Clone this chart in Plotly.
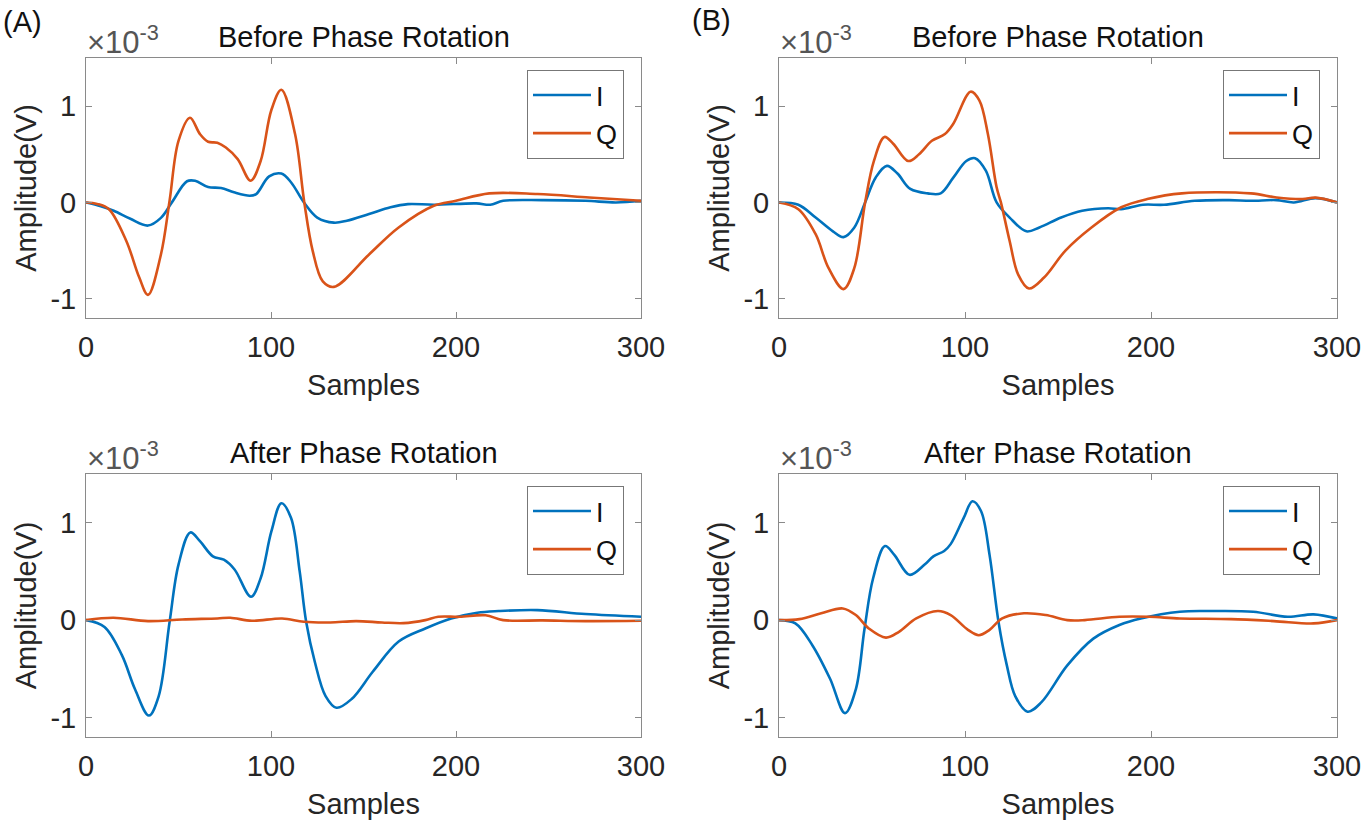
import plotly.graph_objects as go

# values are in units of 1e-3 V (axes carry the x10^-3 multiplier)

# (A) before phase rotation
a_before_i_x = [0, 8, 15, 24, 33.5, 40.5, 46.4, 54.6, 59, 66, 73, 80, 88.5, 92, 99, 105.6, 110.8, 117.8,
                125, 134, 141, 153, 164.6, 174, 188, 211, 218.5, 225.5, 246.6, 270, 286.4, 300]
a_before_i_y = [0, -0.04, -0.087, -0.17, -0.24, -0.16, 0, 0.22, 0.225, 0.16, 0.15, 0.105, 0.07, 0.087, 0.27,
                0.30, 0.21, 0, -0.157, -0.21, -0.19, -0.12, -0.05, -0.017, -0.024, -0.01, -0.024, 0.017,
                0.024, 0.017, 0.0, 0.017]
a_before_q_x = [0, 6, 12.4, 21.8, 28.8, 33.5, 40.5, 45.2, 50, 56.2, 61.6, 66, 71, 75.6, 82, 89, 94.4, 100.2,
                105.6, 113, 118, 122.5, 128, 134, 153, 169, 188, 200, 218, 244, 272, 300]
a_before_q_y = [0, -0.015, -0.07, -0.4, -0.78, -0.96, -0.54, 0.02, 0.64, 0.88, 0.71, 0.63, 0.62, 0.57, 0.45,
                0.226, 0.43, 0.96, 1.17, 0.71, 0, -0.5, -0.82, -0.877, -0.54, -0.26, -0.035, 0.017, 0.094,
                0.087, 0.052, 0.017]

# (B) before phase rotation
b_before_i_x = [0, 10.4, 19.7, 29, 34.7, 40.5, 46.3, 52, 58, 63.7, 70.6, 80, 86.9, 93.8, 100.7, 105.4, 111.2,
                117, 124, 133, 140, 151.7, 163, 177, 184, 195.7, 207, 223.5, 242, 253.7, 267.5, 276.8,
                288.4, 300]
b_before_i_y = [0, -0.024, -0.157, -0.3, -0.36, -0.26, 0, 0.26, 0.38, 0.30, 0.14, 0.094, 0.094, 0.26, 0.43,
                0.46, 0.33, 0, -0.157, -0.30, -0.26, -0.157, -0.087, -0.06, -0.07, -0.024, -0.024, 0.017,
                0.024, 0.017, 0.024, 0, 0.045, 0]
b_before_q_x = [0, 10.4, 19.7, 26.6, 34.7, 40.5, 46.3, 51, 56.7, 61.4, 69.5, 75.3, 82.2, 89.2, 93.8, 103,
                107.7, 112.3, 117, 119.3, 124, 128.6, 134.4, 142.5, 154, 168, 184, 198, 216.6, 253.7, 267.5,
                281.5, 288.4, 300]
b_before_q_y = [0, -0.07, -0.33, -0.68, -0.90, -0.68, 0, 0.43, 0.68, 0.61, 0.43, 0.50, 0.64, 0.71, 0.82, 1.15,
                1.06, 0.71, 0.157, 0, -0.4, -0.75, -0.894, -0.78, -0.5, -0.26, -0.05, 0.035, 0.094, 0.094,
                0.052, 0.035, 0.05, 0]

# (A) after phase rotation
a_after_i_x = [0, 10, 19.4, 26.5, 34, 39.3, 45.2, 50, 56.4, 61.6, 68.6, 74.5, 80.3, 89.2, 94.4, 100.2, 105.6,
               110.8, 115.5, 119, 123.7, 129.5, 135.4, 143.6, 155, 169, 183.4, 197.4, 211.5, 223, 244, 270, 300]
a_after_i_y = [0, -0.07, -0.36, -0.71, -0.98, -0.78, -0.017, 0.57, 0.90, 0.81, 0.655, 0.62, 0.52, 0.24, 0.43,
               0.91, 1.2, 1.05, 0.5, -0.017, -0.43, -0.78, -0.90, -0.81, -0.53, -0.22, -0.086, 0.017, 0.076,
               0.093, 0.103, 0.062, 0.034]
a_after_q_x = [0, 14.8, 33.5, 52, 71, 78, 89.7, 106, 117.8, 132, 146, 160, 171.7, 183.4, 190.4, 202, 216,
               225.5, 246.6, 270, 300]
a_after_q_y = [0, 0.024, -0.01, 0.007, 0.017, 0.024, -0.007, 0.017, -0.017, -0.024, -0.01, -0.024, -0.031, 0,
               0.034, 0.034, 0.05, 0, -0.003, -0.01, -0.007]

# (B) after phase rotation
b_after_i_x = [0, 8.8, 18, 27.4, 35.5, 41.3, 46, 50.6, 57, 62, 70.2, 78.3, 83, 88.8, 92.3, 99.3, 104, 108.6,
               113.2, 118, 122.5, 127, 133.6, 141, 155, 169, 183, 194.5, 215.5, 231.7, 254.9, 273.5, 287.4, 300]
b_after_i_y = [0, -0.034, -0.26, -0.6, -0.955, -0.71, -0.086, 0.43, 0.76, 0.67, 0.465, 0.57, 0.655, 0.71,
               0.78, 1.05, 1.22, 1.12, 0.67, -0.017, -0.465, -0.78, -0.94, -0.845, -0.465, -0.19, -0.05,
               0.017, 0.086, 0.093, 0.086, 0.034, 0.059, 0.017]
b_after_q_x = [0, 11, 22.7, 34.3, 41.3, 48.3, 57.5, 64.5, 73.8, 85.4, 92.3, 101.6, 107.4, 113.2, 120, 131.7,
               143.4, 155, 164.4, 183, 199, 215.5, 243, 266, 287.4, 300]
b_after_q_y = [0, 0.01, 0.07, 0.12, 0.052, -0.086, -0.18, -0.12, 0.017, 0.093, 0.052, -0.10, -0.155, -0.10,
               0.017, 0.07, 0.052, 0, 0, 0.034, 0.034, 0.017, 0.01, -0.01, -0.034, 0]

x_ticks = [0, 100, 200, 300]
y_ticks = [-1, 0, 1]
y_tick_text = ["-1", "0", "1"]

BLUE = "#0072BD"
ORANGE = "#D95319"
FONT = "Liberation Sans, Arial, sans-serif"
TEXT = "#262626"
AXIS = "#8a8a8a"

W, H = 1363, 825


def px(sx):
    return sx / W


def py(sy):
    return 1 - sy / H


panels = [
    # (axis suffix, title, I data, Q data)
    ("", "Before Phase Rotation", (a_before_i_x, a_before_i_y), (a_before_q_x, a_before_q_y)),
    ("2", "Before Phase Rotation", (b_before_i_x, b_before_i_y), (b_before_q_x, b_before_q_y)),
    ("3", "After Phase Rotation", (a_after_i_x, a_after_i_y), (a_after_q_x, a_after_q_y)),
    ("4", "After Phase Rotation", (b_after_i_x, b_after_i_y), (b_after_q_x, b_after_q_y)),
]

# plot boxes in pixels
box_x = [(86, 641), (779, 1337)]
box_y = [(58, 318), (474, 737)]

fig = go.Figure()
layout = dict(
    width=W, height=H,
    margin=dict(l=0, r=0, t=0, b=0, autoexpand=False),
    paper_bgcolor="white", plot_bgcolor="white",
    font=dict(family=FONT, size=29, color=TEXT),
    showlegend=True,
)
annotations = []

for k, (sfx, title, (ix, iy), (qx, qy)) in enumerate(panels):
    row, col = divmod(k, 2)
    xa, ya = "x" + sfx, "y" + sfx
    leg = "legend" + sfx
    fig.add_trace(go.Scatter(x=ix, y=iy, name="I", mode="lines",
                             line=dict(color=BLUE, width=2.6, shape="spline", smoothing=1.0),
                             xaxis=xa, yaxis=ya, legend=leg))
    fig.add_trace(go.Scatter(x=qx, y=qy, name="Q", mode="lines",
                             line=dict(color=ORANGE, width=2.6, shape="spline", smoothing=1.0),
                             xaxis=xa, yaxis=ya, legend=leg))

    bx0, bx1 = box_x[col]
    by0, by1 = box_y[row]
    common = dict(showline=True, linecolor=AXIS, linewidth=1, mirror="ticks", ticks="inside", ticklen=6,
                  tickcolor=AXIS, showgrid=False, zeroline=False, automargin=False,
                  ticklabelstandoff=3, tickfont=dict(size=29, color=TEXT))
    layout["xaxis" + sfx] = dict(common, domain=[px(bx0), px(bx1)], range=[0, 300], tickvals=x_ticks,
                                 anchor=ya, title=dict(text="Samples", standoff=12, font=dict(size=29)))
    layout["yaxis" + sfx] = dict(common, domain=[py(by1), py(by0)], range=[-1.2, 1.5], tickvals=y_ticks,
                                 ticktext=y_tick_text, anchor=xa,
                                 title=dict(text="Amplitude(V)", standoff=5, font=dict(size=29)))

    annotations.append(dict(text=title, x=px((bx0 + bx1) / 2), y=py(by0 - 21), xref="paper", yref="paper",
                            xanchor="center", yanchor="middle", showarrow=False,
                            font=dict(size=29, color="#111111")))
    annotations.append(dict(text="×10<sup>-3</sup>", x=px(bx0 - 1), y=py(by0 + 4), xref="paper", yref="paper",
                            xanchor="left", yanchor="bottom", showarrow=False,
                            font=dict(size=31, color="#555555")))
    layout[leg] = dict(x=px(bx1 - 114), y=py(by0 + 12), xanchor="left", yanchor="top", bgcolor="white",
                       bordercolor="#777777", borderwidth=1, font=dict(size=27, color="#111111"),
                       tracegroupgap=0, itemwidth=58)

annotations.append(dict(text="(A)", x=px(1), y=py(4), xref="paper", yref="paper", xanchor="left",
                        yanchor="top", showarrow=False, font=dict(size=29, color="#111111")))
annotations.append(dict(text="(B)", x=px(690), y=py(2), xref="paper", yref="paper", xanchor="left",
                        yanchor="top", showarrow=False, font=dict(size=29, color="#111111")))
layout["annotations"] = annotations

fig.update_layout(**layout)
# drop the browser's default 8px page margin so the figure fills the window exactly
fig.write_html("out.html", config={"displayModeBar": False},
               post_script="document.body.style.margin = '0';")
